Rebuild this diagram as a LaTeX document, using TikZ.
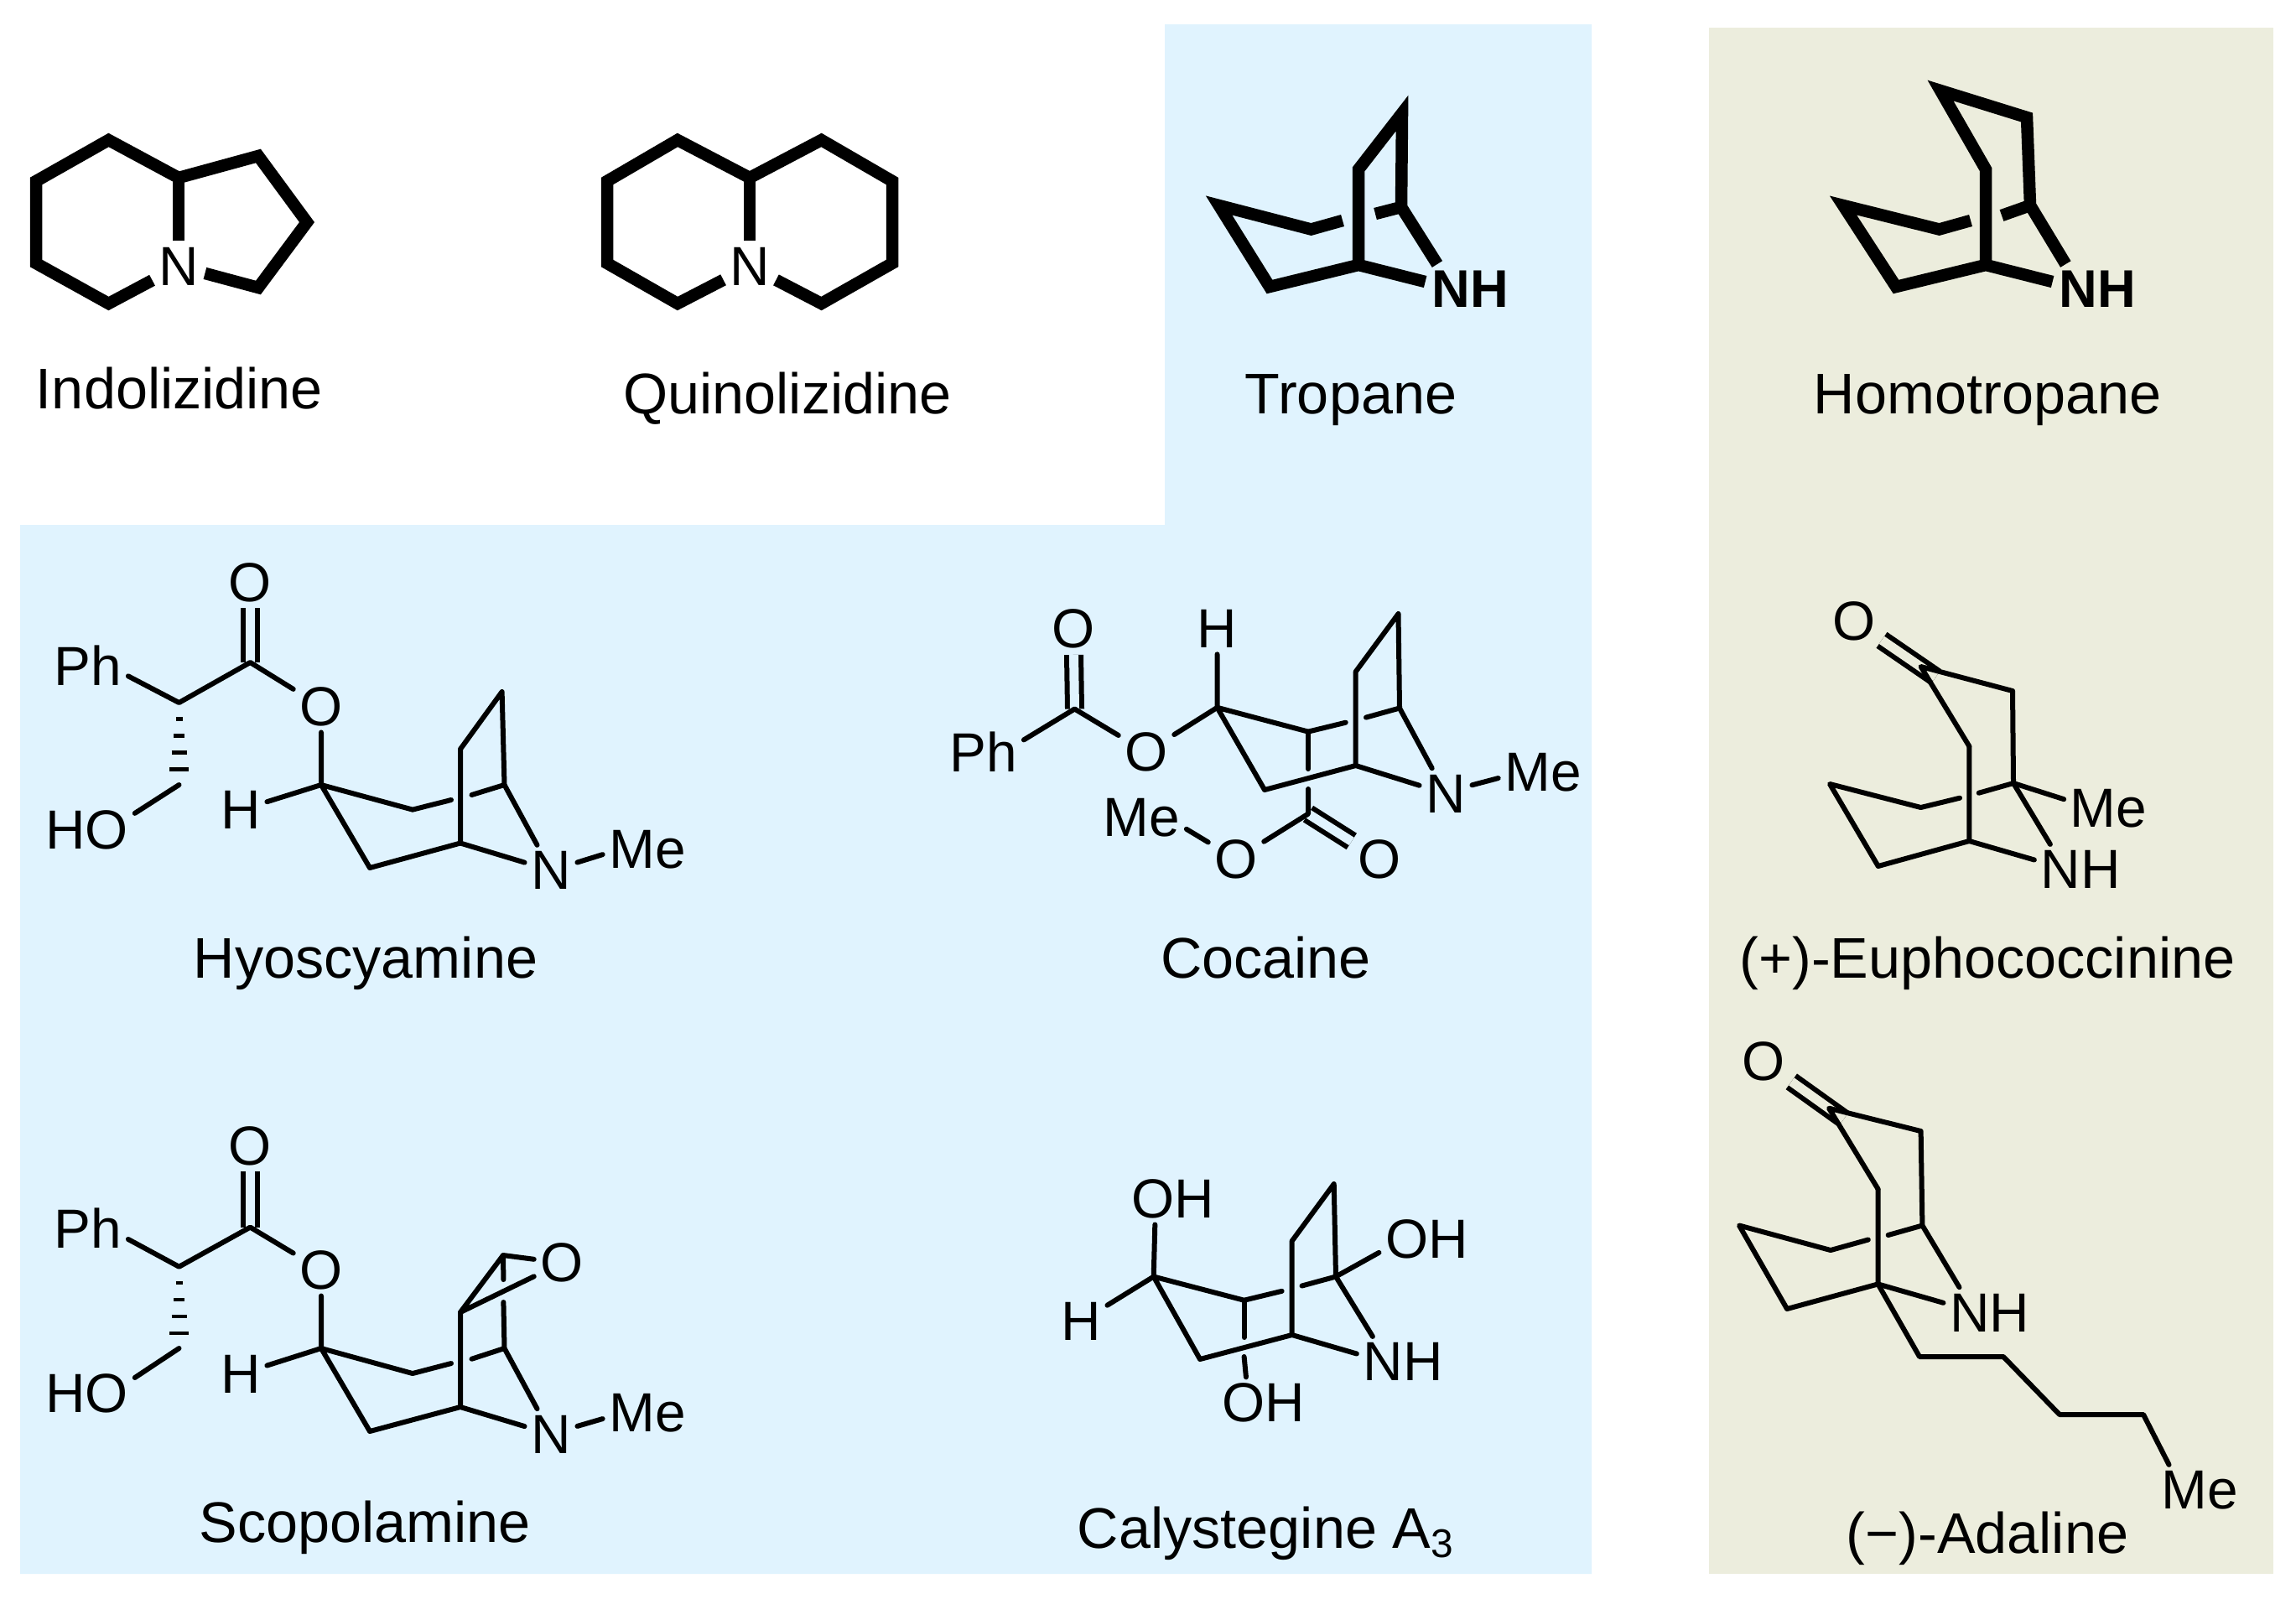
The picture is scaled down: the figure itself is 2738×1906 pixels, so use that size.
\documentclass[tikz,border=0pt]{standalone}
\usepackage{fontspec}
\setmainfont{Liberation Sans}

\definecolor{panelblue}{RGB}{224,243,254}
\definecolor{panelolive}{RGB}{236,237,221}

\tikzset{
  bond/.style={line width=0.6mm, line cap=round, line join=round},
  heavybond/.style={line width=1.45mm, line join=miter},
  dbond/.style={line width=0.6mm, double distance=1.1mm, double=panelblue},
  hash/.style={line width=0.45mm},
  atom/.style={inner sep=0.7mm, yshift=-0.15mm, font=\fontsize{18.7}{22}\selectfont},
  heavyatom/.style={inner sep=0.7mm, yshift=-0.15mm, font=\fontsize{18}{22}\selectfont\bfseries},
  title/.style={anchor=base, inner sep=0pt, yshift=-0.15mm, font=\fontsize{19.45}{24}\selectfont}
}

\begin{document}
\begin{tikzpicture}[x=0.1mm, y=-0.1mm]
\useasboundingbox (0,0) rectangle (2738,1906);

\fill [panelblue] (24,626) -- (1389,626) -- (1389,29) -- (1898,29) -- (1898,1877) -- (24,1877) -- cycle;
\fill [panelolive] (2038,33) rectangle (2711,1877);

\coordinate (i1) at (129.5,167);
\coordinate (i2) at (43,216);
\coordinate (i3) at (43,314);
\coordinate (i4) at (129.5,362);
\coordinate (i5) at (213,212);
\coordinate (i6) at (308,186);
\coordinate (i7) at (366,265);
\coordinate (i8) at (308,343);
\node [atom] (iN) at (213,316) {N};
\node [title] (iT) at (214,486) {Indolizidine};

\draw [heavybond] (iN) -- (i4) -- (i3) -- (i2) -- (i1) -- (i5) -- (i6) -- (i7) -- (i8) -- (iN);
\draw [heavybond] (i5) -- (iN);

\coordinate (q1) at (808,167);
\coordinate (q2) at (724,216);
\coordinate (q3) at (724,314);
\coordinate (q4) at (808,362);
\coordinate (q5) at (894,212);
\coordinate (q6) at (979.5,167);
\coordinate (q7) at (1064,216);
\coordinate (q8) at (1064,314);
\coordinate (q9) at (979.5,362);
\node [atom] (qN) at (894,316) {N};
\node [title] (qT) at (939,492) {Quinolizidine};

\draw [heavybond] (qN) -- (q4) -- (q3) -- (q2) -- (q1) -- (q5) -- (q6) -- (q7) -- (q8) -- (q9) -- (qN);
\draw [heavybond] (q5) -- (qN);

\coordinate (t1) at (1453.6,245);
\coordinate (t2) at (1563.5,273.5);
\coordinate (t3) at (1601,263);
\coordinate (t4) at (1640,255);
\coordinate (t5) at (1671,247);
\coordinate (t6) at (1514,342);
\coordinate (t7) at (1620,316);
\coordinate (t8) at (1620,202);
\coordinate (t9) at (1672,135);
\node [heavyatom] (tNH) at (1753,343) {NH};
\node [title] (tT) at (1611,492) {Tropane};

\draw [heavybond] (t3) -- (t2) -- (t1) -- (t6) -- (t7) -- (tNH.171);
\draw [heavybond] (t7) -- (t8) -- (t9) -- (t5) -- (tNH.143);
\draw [heavybond] (t4) -- (t5);

\coordinate (h1) at (2198,245);
\coordinate (h2) at (2312.5,273.5);
\coordinate (h3) at (2350,263);
\coordinate (h4) at (2387,257);
\coordinate (h5) at (2421,245);
\coordinate (h6) at (2261,342);
\coordinate (h7) at (2368,316);
\coordinate (h8) at (2368,202);
\coordinate (h9) at (2314,108);
\coordinate (h10) at (2417,140);
\node [heavyatom] (hNH) at (2501,343) {NH};
\node [title] (hT) at (2370,492) {Homotropane};

\draw [heavybond] (h3) -- (h2) -- (h1) -- (h6) -- (h7) -- (hNH.171);
\draw [heavybond] (h7) -- (h8) -- (h9) -- (h10) -- (h5) -- (hNH.142);
\draw [heavybond] (h4) -- (h5);

\coordinate (y1) at (298.4,790);
\coordinate (y2) at (213.5,838);
\coordinate (y3) at (213.5,936);
\coordinate (y4) at (383,936);
\coordinate (y5) at (492,965.6);
\coordinate (y6) at (538,954);
\coordinate (y7) at (562.5,948);
\coordinate (y8) at (601.5,936);
\coordinate (y9) at (549,893.4);
\coordinate (y10) at (598.6,825);
\coordinate (y11) at (549,1005.5);
\coordinate (y12) at (441,1035);
\node [atom] (yO1) at (298.4,693) {O};
\node [atom] (yO2) at (383,841) {O};
\node [atom] (yPh) at (105,792) {Ph};
\node [atom] (yHO) at (103.8,988) {HO};
\node [atom] (yH) at (287,964.5) {H};
\node [atom] (yN) at (657,1036.6) {N};
\node [atom] (yMe) at (772,1012) {Me};
\node [title] (yT) at (436,1165) {Hyoscyamine};

\draw [dbond] (yO1) -- (y1);
\draw [bond] (yPh.-15) -- (y2) -- (y1) -- (yO2);
\draw [hash] (209.5,857.5) -- (217.5,857.5);
\draw [hash] (207,877.5) -- (220,877.5);
\draw [hash] (204.5,897.5) -- (222.5,897.5);
\draw [hash] (202,917.5) -- (225,917.5);
\draw [bond] (y3) -- (yHO.19);
\draw [bond] (yO2) -- (y4) -- (yH);
\draw [bond] (y6) -- (y5) -- (y4) -- (y12) -- (y11) -- (yN);
\draw [bond] (y11) -- (y9) -- (y10) -- (y8) -- (yN);
\draw [bond] (y7) -- (y8);
\draw [bond] (yN.17) -- (yMe.186);

\coordinate (c1) at (1281.5,845.5);
\coordinate (c2) at (1451.5,843.8);
\coordinate (c3) at (1560,872.6);
\coordinate (c4) at (1604.7,861.7);
\coordinate (c5) at (1629,855.6);
\coordinate (c6) at (1669,844.5);
\coordinate (c7) at (1616.7,801);
\coordinate (c8) at (1667.5,732);
\coordinate (c9) at (1616.7,913);
\coordinate (c10) at (1508,942);
\coordinate (c11) at (1560,917);
\coordinate (c12) at (1560,941);
\coordinate (c13) at (1560,970.6);
\node [atom] (cO1) at (1280,748.5) {O};
\node [atom] (cO2) at (1367,895.5) {O};
\node [atom] (cH) at (1451.5,748.5) {H};
\node [atom] (cPh) at (1173,895.5) {Ph};
\node [atom] (cN) at (1724,945) {N};
\node [atom] (cMe1) at (1840,920) {Me};
\node [atom] (cO3) at (1474,1023) {O};
\node [atom] (cO4) at (1645,1023) {O};
\node [atom] (cMe2) at (1361.5,974) {Me};
\node [title] (cT) at (1509.5,1165) {Cocaine};

\draw [dbond] (cO1) -- (c1);
\draw [dbond] (c13) -- (cO4);
\draw [bond] (cPh.17) -- (c1) -- (cO2) -- (c2) -- (cH);
\draw [bond] (c4) -- (c3) -- (c2) -- (c10) -- (c9) -- (cN);
\draw [bond] (c9) -- (c7) -- (c8) -- (c6) -- (cN);
\draw [bond] (c5) -- (c6);
\draw [bond] (c3) -- (c11);
\draw [bond] (c12) -- (c13) -- (cO3) -- (cMe2.-14);
\draw [bond] (cN.18) -- (cMe1.187);

\coordinate (s1) at (298.4,1463.6);
\coordinate (s2) at (213.5,1510.7);
\coordinate (s3) at (213.5,1608);
\coordinate (s4) at (383,1608);
\coordinate (s5) at (492,1638);
\coordinate (s6) at (538,1626);
\coordinate (s7) at (562.5,1620.7);
\coordinate (s8) at (601.5,1608);
\coordinate (s9) at (549,1565);
\coordinate (s10) at (600,1497);
\coordinate (s11) at (600.4,1526);
\coordinate (s12) at (600.4,1553);
\coordinate (s13) at (549,1678);
\coordinate (s14) at (441,1707);
\node [atom] (sO1) at (298.4,1365) {O};
\node [atom] (sO2) at (383,1513) {O};
\node [atom] (sO3) at (670,1504.6) {O};
\node [atom] (sPh) at (105,1463.6) {Ph};
\node [atom] (sHO) at (103.8,1660) {HO};
\node [atom] (sH) at (287,1637) {H};
\node [atom] (sN) at (657,1709) {N};
\node [atom] (sMe) at (772,1684) {Me};
\node [title] (sT) at (435,1838) {Scopolamine};

\draw [dbond] (sO1) -- (s1);
\draw [bond] (sPh.-15) -- (s2) -- (s1) -- (sO2);
\draw [hash] (209.5,1530) -- (217.5,1530);
\draw [hash] (207,1550) -- (220,1550);
\draw [hash] (204.5,1570) -- (222.5,1570);
\draw [hash] (202,1590) -- (225,1590);
\draw [bond] (s3) -- (sHO.18);
\draw [bond] (sO2) -- (s4) -- (sH);
\draw [bond] (s6) -- (s5) -- (s4) -- (s14) -- (s13) -- (sN);
\draw [bond] (s13) -- (s9) -- (s10) -- (sO3) -- (s9);
\draw [bond] (s10) -- (s11);
\draw [bond] (s12) -- (s8) -- (sN);
\draw [bond] (s7) -- (s8);
\draw [bond] (sN.17) -- (sMe.187);

\coordinate (k1) at (1375.7,1522.5);
\coordinate (k2) at (1483.6,1550.7);
\coordinate (k3) at (1528.6,1539.8);
\coordinate (k4) at (1552.5,1533.5);
\coordinate (k5) at (1593,1522.5);
\coordinate (k6) at (1540.7,1480);
\coordinate (k7) at (1590.7,1412);
\coordinate (k8) at (1540.7,1592);
\coordinate (k9) at (1431,1621);
\coordinate (k10) at (1483.6,1595);
\coordinate (k11) at (1483.6,1618);
\node [atom] (kOH1) at (1399,1428) {OH};
\node [atom] (kOH2) at (1701.4,1476) {OH};
\node [atom] (kOH3) at (1506.8,1671.8) {OH};
\node [atom] (kH) at (1289,1574.6) {H};
\node [atom] (kNH) at (1673,1622.7) {NH};
\node [title] (kT) at (1510,1845) {Calystegine A\textsubscript{3}};

\draw [bond] (kOH1.235) -- (k1) -- (kH);
\draw [bond] (k3) -- (k2) -- (k1) -- (k9) -- (k8) -- (kNH.170);
\draw [bond] (k8) -- (k6) -- (k7) -- (k5) -- (kNH.140);
\draw [bond] (k4) -- (k5) -- (kOH2.196);
\draw [bond] (k2) -- (k10);
\draw [bond] (k11) -- (kOH3.124);

\coordinate (e1) at (2308.3,807.5);
\coordinate (e2) at (2290.6,795);
\coordinate (e3) at (2400,824);
\coordinate (e4) at (2348.3,890);
\coordinate (e5) at (2348.3,1003);
\coordinate (e6) at (2401,934);
\coordinate (e7) at (2182,935);
\coordinate (e8) at (2290.6,963);
\coordinate (e9) at (2337,951.7);
\coordinate (e10) at (2359.7,945.7);
\coordinate (e11) at (2239.7,1033);
\node [atom] (eO) at (2210.7,739) {O};
\node [atom] (eMe) at (2514.5,963) {Me};
\node [atom] (eNH) at (2481,1035.7) {NH};
\node [title] (eT) at (2370,1165) {(+)-Euphococcinine};

\draw [dbond, double=panelolive] (eO) -- (e1);
\draw [bond] (e4) -- (e2) -- (e3) -- (e6) -- (eNH.140);
\draw [bond] (e4) -- (e5) -- (eNH.168);
\draw [bond] (e9) -- (e8) -- (e7) -- (e11) -- (e5);
\draw [bond] (e10) -- (e6) -- (eMe.168);

\coordinate (a1) at (2198.7,1334.5);
\coordinate (a2) at (2181,1321.7);
\coordinate (a3) at (2290.6,1349);
\coordinate (a4) at (2239.5,1418);
\coordinate (a5) at (2239.5,1531.4);
\coordinate (a6) at (2292.4,1461.5);
\coordinate (a7) at (2074,1461.5);
\coordinate (a8) at (2183,1491);
\coordinate (a9) at (2227.8,1478.5);
\coordinate (a10) at (2251.6,1473);
\coordinate (a11) at (2131,1561);
\coordinate (a12) at (2289,1618);
\coordinate (a13) at (2389,1618);
\coordinate (a14) at (2456,1687);
\coordinate (a15) at (2556,1687);
\node [atom] (aO) at (2103,1264.5) {O};
\node [atom] (aNH) at (2372.6,1564) {NH};
\node [atom] (aMe) at (2623,1776) {Me};
\node [title] (aT) at (2370,1851) {(−)-Adaline};

\draw [dbond, double=panelolive] (aO) -- (a1);
\draw [bond] (a4) -- (a2) -- (a3) -- (a6) -- (aNH.140);
\draw [bond] (a4) -- (a5) -- (aNH.168);
\draw [bond] (a9) -- (a8) -- (a7) -- (a11) -- (a5);
\draw [bond] (a10) -- (a6);
\draw [bond] (a5) -- (a12) -- (a13) -- (a14) -- (a15) -- (aMe.140);
\end{tikzpicture}
\end{document}
